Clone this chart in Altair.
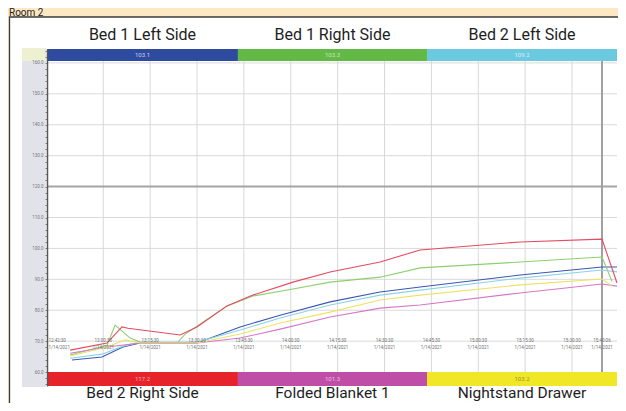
import altair as alt
import pandas as pd

# ---------------- data ----------------
sensors = ["Bed 1 Left Side", "Bed 1 Right Side", "Bed 2 Left Side",
           "Bed 2 Right Side", "Folded Blanket 1", "Nightstand Drawer"]
sensor_ids = ["103.1", "103.3", "109.2", "117.2", "101.3", "103.2"]
line_colors = ["#3b57b3", "#8dcf70", "#8fd3e6", "#e54a60", "#d677c8", "#ece26a"]
band_colors = ["#2f4b9f", "#63b946", "#6ccae0", "#e6222b", "#bf4fa6", "#f0e826"]
band_edges = [0, 61.1, 121.6, 182.4]          # minutes

# elapsed minutes / temperature (°F)
b1l_t = [8.0, 17.6, 24.3, 29.8, 48.0, 61.8, 74.6, 90.6, 106.6, 119.4, 151.4, 177.6, 182.4]
b1l_v = [63.9, 64.9, 68.1, 69.4, 69.4, 74.6, 78.4, 82.7, 85.9, 87.5, 91.4, 94.0, 94.0]

b1r_t = [7.4, 19.2, 21.8, 26.6, 29.8, 41.6, 44.2, 57.6, 65.9, 78.7, 90.6, 106.6, 119.4, 151.4, 177.6, 180.8]
b1r_v = [65.5, 68.7, 75.2, 71.0, 69.7, 69.4, 72.3, 81.4, 84.6, 86.9, 89.1, 90.7, 93.7, 95.6, 97.2, 89.4]

b2l_t = [7.4, 17.6, 24.3, 29.8, 48.0, 61.8, 74.6, 90.6, 106.6, 119.4, 151.4, 177.6, 182.4]
b2l_v = [64.5, 65.8, 68.4, 69.7, 69.7, 73.6, 77.5, 81.7, 84.9, 86.5, 90.4, 93.0, 92.4]

b2r_t = [7.4, 19.2, 24.0, 25.9, 42.6, 48.0, 57.6, 65.9, 78.7, 90.6, 106.6, 119.4, 151.4, 177.6, 182.4]
b2r_v = [67.1, 69.4, 74.6, 74.2, 72.0, 74.6, 81.4, 84.9, 89.1, 92.4, 95.6, 99.5, 102.1, 103.0, 88.8]

fb1_t = [7.4, 19.2, 29.8, 48.0, 61.8, 74.6, 90.6, 106.6, 119.4, 151.4, 177.6, 182.4]
fb1_v = [66.1, 68.1, 69.4, 69.4, 71.0, 73.9, 77.8, 80.7, 81.7, 85.6, 88.5, 87.8]

nsd_t = [7.4, 19.2, 25.0, 29.8, 48.0, 61.8, 74.6, 90.6, 106.6, 119.4, 151.4, 177.6, 180.8]
nsd_v = [65.2, 68.1, 70.4, 69.4, 69.4, 72.3, 75.9, 79.4, 83.3, 84.9, 88.2, 90.1, 87.8]

y_grid = [70, 80, 90, 100, 110, 130, 140, 150, 160]
y_minor = [56, 58, 60, 62, 64, 66, 68, 70, 72, 74, 76, 78, 80, 82, 84, 86, 88, 90, 92, 94,
           96, 98, 100, 102, 104, 106, 108, 110, 112, 114, 116, 118, 120, 122, 124, 126,
           128, 130, 132, 134, 136, 138, 140, 142, 144, 146, 148, 150, 152, 154, 156, 158,
           160, 162, 164]
threshold = [120]
x_ticks = [18, 33, 48, 63, 78, 93, 108, 123, 138, 153, 168]
end_marker = [177.6]
tick_pos = [0, 18, 33, 48, 63, 78, 93, 108, 123, 138, 153, 168, 177.6]
tick_time = ["12:42:30", "13:00:30", "13:15:30", "13:30:30", "13:45:30", "14:00:30", "14:15:30",
             "14:30:30", "14:45:30", "15:00:30", "15:15:30", "15:30:30", "15:40:06"]
tick_date = ["1/14/2021"] * 13

# ---------------- frames ----------------
series = [(b1l_t, b1l_v), (b1r_t, b1r_v), (b2l_t, b2l_v),
          (b2r_t, b2r_v), (fb1_t, fb1_v), (nsd_t, nsd_v)]
rows = []
for name, col, (ts, vs) in zip(sensors, line_colors, series):
    for t, v in zip(ts, vs):
        rows.append({"sensor": name, "lc": col, "t": t, "v": v})
lines_df = pd.DataFrame(rows)

bands = pd.DataFrame({
    "sensor": sensors, "sid": sensor_ids, "color": band_colors,
    "start": band_edges[:3] * 2, "end": band_edges[1:] * 2,
    "row": ["top"] * 3 + ["bottom"] * 3,
})
bands["y0"] = [160.65] * 3 + [55.5] * 3
bands["y1"] = [164.5] * 3 + [60.0] * 3
bands["mid"] = (bands["start"] + bands["end"]) / 2
bands["ym"] = (bands["y0"] + bands["y1"]) / 2
bands["tc"] = ["#c9d0ee", "#c7e8b8", "#d6f0f6", "#f5b4b6", "#e8bfe0", "#9a9230"]

W, H = 570, 337
xs = alt.Scale(domain=[0, 182.4], nice=False, zero=False)
ys = alt.Scale(domain=[55.5, 164.5], nice=False, zero=False)
FONT = "Roboto"
Y_AX = alt.Axis(
    values=y_minor, grid=False, domainColor="#555", domainWidth=1.5,
    tickColor="#666", tickSize=2, tickWidth=0.8,
    labelExpr="datum.value % 10 == 0 && datum.value >= 60 && datum.value <= 160 ? format(datum.value, '.1f') : ''",
    labelFontSize=4.5, labelColor="#777", labelPadding=2, labelFont=FONT,
    title=None, zindex=1)


def X(f):
    return alt.X(f, scale=xs, axis=None)


def Y(f):
    return alt.Y(f, scale=ys, axis=Y_AX)


frame = pd.DataFrame({"part": ["panel", "strip", "corner"],
                      "fill": ["white", "#e2e2ea", "#eef0d2"]})

panel = alt.Chart(frame).transform_filter("datum.part == 'panel'").mark_rect(
    stroke="#3c3c3c", strokeWidth=1.3).encode(
    x=alt.value(-37.5), x2=alt.value(590), y=alt.value(-32), y2=alt.value(420),
    fill=alt.Fill("fill:N", scale=None))
strip = alt.Chart(frame).transform_filter("datum.part == 'strip'").mark_rect().encode(
    x=alt.value(-25), x2=alt.value(-1), y=alt.value(-1), y2=alt.value(338),
    fill=alt.Fill("fill:N", scale=None))
corner = alt.Chart(frame).transform_filter("datum.part == 'corner'").mark_rect().encode(
    x=alt.value(-25), x2=alt.value(-2), y=alt.value(-1), y2=alt.value(12),
    fill=alt.Fill("fill:N", scale=None))

hgrid = alt.Chart(pd.DataFrame({"v": y_grid})).mark_rule(color="#dadada", strokeWidth=1).encode(
    y=Y("v:Q"))
vgrid = alt.Chart(pd.DataFrame({"t": x_ticks})).mark_rule(color="#d8d8d8", strokeWidth=1).encode(
    x=X("t:Q"))
thr = alt.Chart(pd.DataFrame({"v": threshold})).mark_rule(color="#a4a4a4", strokeWidth=2).encode(
    y=Y("v:Q"))
endm = alt.Chart(pd.DataFrame({"t": end_marker})).mark_rule(color="#a0a0a0", strokeWidth=2).encode(
    x=X("t:Q"))

lines = alt.Chart(lines_df).mark_line(strokeWidth=1.1).encode(
    x=X("t:Q"), y=Y("v:Q"),
    color=alt.Color("lc:N", scale=None),
    detail="sensor:N",
    order="t:Q")

band_rects = alt.Chart(bands).mark_rect().encode(
    x=X("start:Q"), x2="end:Q",
    y=Y("y0:Q"), y2="y1:Q",
    fill=alt.Fill("color:N", scale=None))
band_ids = alt.Chart(bands).mark_text(fontSize=6, font=FONT).encode(
    x=X("mid:Q"), y=Y("ym:Q"), text="sid:N",
    fill=alt.Fill("tc:N", scale=None))

top_titles = alt.Chart(bands).transform_filter("datum.row == 'top'").mark_text(
    fontSize=16, font=FONT, color="#1e1e1e", baseline="alphabetic").encode(
    x=X("mid:Q"), y=alt.value(-9), text="sensor:N")
bot_titles = alt.Chart(bands).transform_filter("datum.row == 'bottom'").mark_text(
    fontSize=15.5, font=FONT, color="#1e1e1e", baseline="alphabetic").encode(
    x=X("mid:Q"), y=alt.value(349), text="sensor:N")

ticks_df = pd.DataFrame({"t": tick_pos, "time": tick_time, "date": tick_date})
ticks_df["label"] = ticks_df["time"] + "\n" + ticks_df["date"]
tick_labels = alt.Chart(ticks_df).transform_filter("datum.t > 0").mark_text(
    fontSize=4.5, font=FONT, color="#6f6f6f", lineBreak="\n", baseline="middle").encode(
    x=X("t:Q"), y=alt.value(292), text="label:N")
tick_first = alt.Chart(ticks_df).transform_filter("datum.t == 0").mark_text(
    fontSize=4.5, font=FONT, color="#6f6f6f", lineBreak="\n", baseline="middle",
    align="left", dx=1.5).encode(
    x=X("t:Q"), y=alt.value(292), text="label:N")

room = alt.Chart(pd.DataFrame({"title": ["Room 2"]})).mark_text(
    fontSize=10, font=FONT, color="#222", align="left", baseline="alphabetic").encode(
    x=alt.value(-38), y=alt.value(-33.5), text="title:N")

chart = alt.layer(
    panel, strip, corner, hgrid, vgrid, thr, endm, lines, band_rects, band_ids,
    top_titles, bot_titles, tick_labels, tick_first, room
).properties(
    width=W, height=H,
    autosize=alt.AutoSizeParams(type="none"),
    padding={"left": 39, "top": 41, "right": 1, "bottom": 17},
    background="#fde8c3",
).configure_view(strokeWidth=0)

chart.save("out.html", embed_options={"renderer": "svg", "actions": False})
